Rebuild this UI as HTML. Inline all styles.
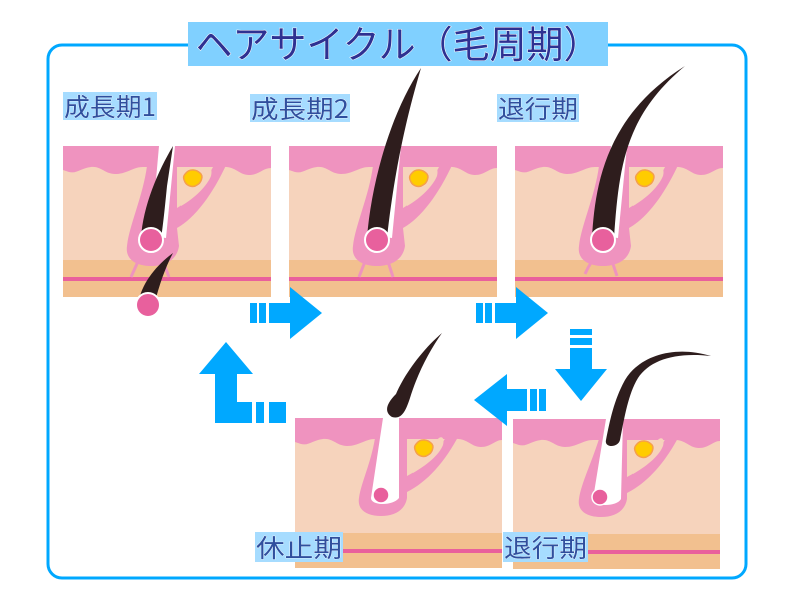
<!DOCTYPE html>
<html><head><meta charset="utf-8"><style>
html,body{margin:0;padding:0;background:#fff;width:800px;height:600px;overflow:hidden}
svg{display:block}
.lb{font-family:"Noto Sans CJK JP",sans-serif;font-size:25px;fill:#2f4f9e;stroke:#fff;stroke-width:0.6px;paint-order:stroke}
</style></head><body>
<svg width="800" height="600" viewBox="0 0 800 600" xmlns="http://www.w3.org/2000/svg">
<defs>
<g id="bgT">
<rect x="0" y="0" width="208" height="151" fill="#f6d3bc"/>
<path d="M0,0 H208 V22 C200,22 196,29 186,29 C176,29 172,20 160,21 L120,21 L80,21 C70,21 64,28 52,28 C42,28 38,20 28,21 C18,22 14,28 6,26 L0,24 Z" fill="#ef93bf"/>
<rect x="0" y="114" width="208" height="37" fill="#f2c08f"/>
<rect x="0" y="131" width="208" height="4" fill="#e9609c"/>
</g>
<g id="bgB">
<rect x="0" y="0" width="207" height="150" fill="#f6d3bc"/>
<path d="M0,0 H207 V22 C200,22 196,29 186,29 C176,29 172,20 160,21 L120,21 L80,21 C70,21 64,28 52,28 C42,28 38,20 28,21 C18,22 14,28 6,26 L0,24 Z" fill="#ef93bf"/>
<rect x="0" y="115" width="207" height="35" fill="#f2c08f"/>
<rect x="0" y="131" width="207" height="4" fill="#e9609c"/>
</g>
<g id="fol">
<path d="M84,0 L84,20 C80,50 66,80 64,100 C62,114 74,120 88,120 C102,120 114,114 116,100 L114,82 C132,72 150,48 164,17 L164,0 L152,0 L152,17 C142,38 128,54 114,62 L114,0 Z" fill="#ef93bf"/>
<path d="M118,55 C128,48 136,38 142,26 C146,20 150,22 148,30 C144,40 132,52 118,60 Z" fill="#f6d3bc"/>
<path d="M123,27 C127,22 134,24 137,27 C141,30 138,37 134,39 C130,42 124,40 122,36 C120,32 120,30 123,27 Z" fill="#ffcc00" stroke="#f5a04a" stroke-width="1.5"/>
</g>
</defs>

<rect x="48" y="45" width="698" height="533" rx="14" fill="none" stroke="#00a8ff" stroke-width="3"/>
<rect x="188" y="22" width="420" height="44" fill="#80d0ff"/>
<text x="398" y="58" text-anchor="middle" textLength="405" lengthAdjust="spacingAndGlyphs" font-family="Noto Sans CJK JP,sans-serif" font-size="38" fill="#2e3192" stroke="#fff" stroke-width="1" paint-order="stroke">ヘアサイクル（毛周期）</text>

<!-- panel 1 -->
<g transform="translate(63,146)">
<use href="#bgT"/>
<use href="#fol"/>
<line x1="82" y1="100" x2="68" y2="131" stroke="#ef93bf" stroke-width="3"/>
<line x1="94" y1="100" x2="106" y2="131" stroke="#ef93bf" stroke-width="3"/>
<path d="M96,0 L88,90 L103,92 L112,0 Z" fill="#fff"/>
<path d="M78,92 C80,60 95,25 110,0 L104,40 C102,60 100,80 98,92 Z" fill="#2e1d1d"/>
<circle cx="88" cy="94" r="12" fill="#e8609d" stroke="#fff" stroke-width="2"/>
<path d="M76,154 C80,135 95,118 110,107 C102,122 96,140 92,156 Z" fill="#2e1d1d"/>
<circle cx="85" cy="159" r="12" fill="#e8609d" stroke="#fff" stroke-width="2"/>
</g>

<!-- panel 2 -->
<g transform="translate(289,146)">
<use href="#bgT"/>
<use href="#fol"/>
<line x1="82" y1="100" x2="70" y2="131" stroke="#ef93bf" stroke-width="3"/>
<line x1="94" y1="100" x2="104" y2="131" stroke="#ef93bf" stroke-width="3"/>
<path d="M96,0 L88,90 L103,92 L112,0 Z" fill="#fff"/>
<path d="M78,92 C82,40 100,-30 132,-78 C118,-30 106,20 98,92 Z" fill="#2e1d1d"/>
<circle cx="88" cy="94" r="12" fill="#e8609d" stroke="#fff" stroke-width="2"/>
</g>

<!-- panel 3 -->
<g transform="translate(515,146)">
<use href="#bgT"/>
<use href="#fol"/>
<path d="M80,112 C74,118 72,124 70,128" stroke="#ef93bf" stroke-width="3" fill="none"/>
<path d="M96,112 C98,118 100,124 102,130" stroke="#ef93bf" stroke-width="3" fill="none"/>
<path d="M96,0 L88,90 L103,92 L112,0 Z" fill="#fff"/>
<path d="M77,92 C80,40 90,-30 170,-80 C110,-30 104,20 99,92 Z" fill="#2e1d1d"/>
<circle cx="88" cy="94" r="12" fill="#e8609d" stroke="#fff" stroke-width="2"/>
</g>

<!-- panel 4 (休止期) -->
<g transform="translate(295,418)">
<use href="#bgB"/>
<path d="M80,0 L80,20 C76,45 66,65 64,80 C62,92 72,98 86,98 C100,98 110,92 112,80 L112,74 C132,64 150,44 164,17 L164,0 L152,0 L152,17 C142,36 128,50 112,58 L112,0 Z" fill="#ef93bf"/>
<path d="M118,50 C128,43 136,33 142,22 C146,17 150,19 148,27 C144,37 132,47 118,55 Z" fill="#f6d3bc"/>
<path d="M122,25 C126,20 133,22 136,25 C140,28 137,35 133,37 C129,40 123,38 121,34 C119,30 119,28 122,25 Z" fill="#ffcc00" stroke="#f5a04a" stroke-width="1.5"/>
<path d="M88,0 L76,80 C76,88 98,88 104,80 L104,0 Z" fill="#fff"/>
<circle cx="86" cy="77" r="8" fill="#e8609d" stroke="#fff" stroke-width="1.5"/>
</g>
<path d="M396,394 C386,404 384,412 392,417 C402,420 406,410 410,398 C418,372 430,350 442,333 C422,350 404,375 396,394 Z" fill="#2e1d1d"/>

<!-- panel 5 (退行期 bottom) -->
<g transform="translate(513,419)">
<use href="#bgB"/>
<path d="M86,0 L86,20 C78,45 68,65 66,80 C64,92 74,98 88,98 C102,98 112,92 114,80 L114,74 C134,64 152,44 166,17 L166,0 L154,0 L154,17 C144,36 130,50 114,58 L114,0 Z" fill="#ef93bf"/>
<path d="M120,50 C130,43 138,33 144,22 C148,17 152,19 150,27 C146,37 134,47 120,55 Z" fill="#f6d3bc"/>
<path d="M124,25 C128,20 135,22 138,25 C142,28 139,35 135,37 C131,40 125,38 123,34 C121,30 121,28 124,25 Z" fill="#ffcc00" stroke="#f5a04a" stroke-width="1.5"/>
<path d="M93,0 L80,80 C80,88 104,88 108,80 L110,0 Z" fill="#fff"/>
<circle cx="87" cy="78" r="8" fill="#e8609d" stroke="#fff" stroke-width="1.5"/>
</g>
<path d="M606,440 C610,420 614,400 625,380 C640,355 675,345 711,356 C675,352 650,360 638,378 C628,394 624,420 620,440 C618,448 604,448 606,440 Z" fill="#2e1d1d"/>

<!-- arrows -->
<g fill="#00a8ff">
<rect x="250" y="303" width="7" height="20"/><rect x="259" y="303" width="7" height="20"/><rect x="269" y="303" width="21" height="20"/>
<polygon points="290,287 322,313 290,339"/>
<rect x="476" y="303" width="7" height="20"/><rect x="485" y="303" width="7" height="20"/><rect x="495" y="303" width="21" height="20"/>
<polygon points="516,287 548,313 516,339"/>
<rect x="570" y="329" width="22" height="6"/><rect x="570" y="338" width="22" height="7"/><rect x="570" y="348" width="22" height="21"/>
<polygon points="555,369 607,369 581,401"/>
<polygon points="474,400 507,374 507,426"/>
<rect x="507" y="389" width="20" height="22"/><rect x="530" y="389" width="7" height="22"/><rect x="539" y="389" width="7" height="22"/>
<polygon points="226,342 253,374 199,374"/>
<rect x="215" y="374" width="22" height="49"/><rect x="215" y="402" width="37" height="21"/>
<rect x="256" y="402" width="8" height="21"/><rect x="269" y="402" width="17" height="21"/>
</g>

<!-- labels -->
<rect x="63" y="92" width="94" height="28" fill="#a6dcff"/>
<text class="lb" x="64" y="116" textLength="92" lengthAdjust="spacingAndGlyphs">成長期1</text>
<rect x="250" y="94" width="100" height="28" fill="#a6dcff"/>
<text class="lb" x="251" y="118" textLength="98" lengthAdjust="spacingAndGlyphs">成長期2</text>
<rect x="497" y="94" width="82" height="28" fill="#a6dcff"/>
<text class="lb" x="498" y="118" textLength="80" lengthAdjust="spacingAndGlyphs">退行期</text>
<rect x="255" y="532" width="88" height="30" fill="#a6dcff"/>
<text class="lb" x="256" y="557" textLength="86" lengthAdjust="spacingAndGlyphs">休止期</text>
<rect x="503" y="532" width="85" height="30" fill="#a6dcff"/>
<text class="lb" x="504" y="557" textLength="83" lengthAdjust="spacingAndGlyphs">退行期</text>
</svg>
</body></html>
